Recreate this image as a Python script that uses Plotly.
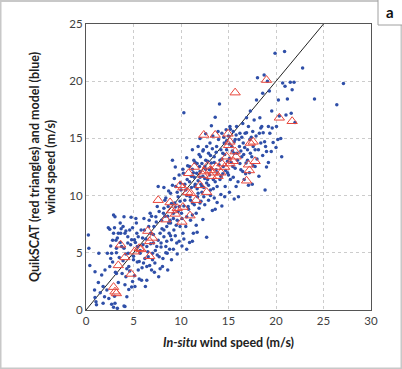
import plotly.graph_objects as go

# Red triangles: QuikSCAT vs in-situ
tri_x = [2.9, 3.05, 3.2, 3.4, 3.65, 4.1, 4.75, 5.1, 5.6, 5.8, 6.5, 6.7, 6.7, 7.0, 7.6, 8.4, 8.85, 9.0,
         9.4, 9.6, 9.9, 10.2, 10.2, 10.1, 10.7, 10.95, 10.8, 11.0, 11.4, 11.6, 12.0, 12.4, 12.3, 12.4,
         12.7, 12.8, 13.05, 13.2, 13.4, 13.6, 13.7, 13.9, 14.2, 14.3, 14.6, 14.8, 14.95, 15.15, 15.0,
         15.5, 15.7, 15.8, 15.7, 16.9, 17.1, 17.2, 17.3, 17.6, 17.8, 19.0, 20.35, 21.7, 15.15]
tri_y = [2.0, 1.6, 1.45, 3.9, 5.7, 4.6, 3.15, 5.1, 5.4, 5.3, 6.9, 6.0, 4.7, 6.3, 9.6, 7.9, 9.4, 8.7,
         8.4, 8.9, 10.9, 10.7, 9.0, 7.7, 10.3, 8.25, 11.95, 10.2, 12.5, 9.6, 10.9, 15.3, 11.8, 12.1,
         10.3, 12.6, 12.2, 11.7, 12.0, 15.3, 12.5, 11.7, 12.0, 12.8, 12.5, 13.4, 15.4, 14.7, 14.4,
         13.0, 13.85, 13.4, 19.0, 11.3, 12.7, 12.2, 14.6, 14.7, 13.0, 20.1, 16.8, 16.5, 12.8]

# Blue dots: model vs in-situ
dot_x = [0.25, 0.3, 0.4, 0.95, 0.9, 1.05, 1.1, 0.95, 1.35, 1.65, 1.8, 1.95, 2.2, 2.25, 2.35, 2.5, 2.6, 2.5,
         2.7, 2.8, 2.9, 2.9, 3.05, 3.15, 3.2, 3.2, 3.05, 2.7, 2.9, 3.3, 3.4, 3.6, 3.65, 3.75, 3.9, 4.0,
         4.1, 4.2, 4.3, 4.0, 4.1, 4.4, 4.45, 4.5, 4.6, 4.75, 4.8, 4.9, 5.0, 5.1, 5.15, 5.25, 5.35, 5.4,
         5.5, 5.6, 5.7, 5.85, 5.95, 6.05, 6.15, 6.25, 6.4, 6.4, 6.55, 6.65, 6.75, 6.8, 6.9, 7.0, 7.1,
         7.15, 7.25, 7.35, 7.45, 7.5, 7.6, 7.65, 7.7, 7.8, 7.9, 7.95, 8.05, 8.15, 8.2, 8.3, 8.4, 8.5,
         8.55, 8.65, 8.75, 8.85, 8.9, 9.0, 9.1, 9.2, 9.25, 9.35, 9.45, 9.55, 9.6, 9.7, 9.8, 9.9, 9.95,
         10.05, 10.2, 10.25, 10.3, 10.4, 10.5, 10.6, 10.65, 10.75, 10.9, 10.95, 11.0, 11.1, 11.2, 11.3,
         11.35, 11.45, 11.6, 11.65, 11.75, 11.8, 11.95, 12.0, 12.05, 12.2, 12.3, 12.35, 12.4, 12.5,
         12.6, 12.7, 12.8, 12.9, 13.0, 13.05, 13.1, 13.2, 13.35, 13.4, 13.5, 13.6, 13.7, 13.75, 13.8,
         13.95, 14.05, 14.1, 14.2, 14.3, 14.4, 14.45, 14.55, 14.65, 14.75, 14.8, 14.9, 15.0, 15.1,
         15.15, 15.2, 15.35, 15.45, 15.5, 15.6, 15.7, 15.8, 15.85, 15.95, 16.05, 16.15, 16.2, 16.3,
         16.4, 16.5, 16.55, 16.65, 16.75, 16.85, 16.9, 17.0, 17.1, 17.2, 17.25, 17.3, 17.45, 17.55,
         17.6, 17.7, 17.8, 17.9, 17.95, 18.05, 18.15, 18.25, 18.3, 18.4, 18.5, 18.6, 18.65, 18.75,
         18.85, 18.9, 19.0, 19.1, 19.2, 19.3, 19.35, 19.5, 19.55, 19.7, 19.9, 20.0, 20.05, 20.25,
         20.35, 20.5, 20.7, 20.9, 20.95, 21.05, 21.2, 21.5, 21.6, 21.7, 21.9, 22.0, 22.8, 24.05, 26.4,
         27.1,
         11.2, 11.4, 11.5, 11.7, 11.8, 11.9, 12.0, 12.1, 12.2, 12.3, 12.4, 12.5, 12.6, 12.7, 12.8, 12.9,
         13.0, 13.1, 13.2, 13.3, 13.4, 13.5, 13.6, 13.7, 13.8, 13.9, 14.0, 14.1, 14.2, 14.3, 14.4, 14.5,
         14.6, 14.7, 14.8, 14.9, 15.0, 15.1, 15.2, 15.3, 15.4, 15.5, 15.6, 15.7, 15.8, 15.9, 16.0, 16.1,
         16.2, 16.3, 16.4, 16.5, 16.6, 16.7, 16.8, 16.9, 17.0, 17.1, 17.3, 17.4, 17.6, 17.8, 18.0, 18.2,
         18.4, 18.6, 18.8, 19.2, 19.6, 20.2,
         8.2, 8.4, 8.6, 8.7, 8.9, 9.0, 9.1, 9.2, 9.3, 9.4, 9.5, 9.6, 9.7, 9.8, 9.9, 10.0, 10.1, 10.2,
         10.3, 10.4, 10.5, 10.6, 10.7, 10.8, 10.9, 11.0, 11.1, 11.2, 11.3, 11.4, 11.5, 11.6, 11.7, 11.8,
         11.9, 12.0, 12.1, 12.2, 12.3, 12.5, 12.7, 12.9, 13.1, 13.3, 13.5, 13.8, 14.2, 14.6, 15.1, 15.6,
         4.2, 4.4, 4.6, 4.7, 4.9, 5.0, 5.1, 5.2, 5.3, 5.4, 5.5, 5.6, 5.7, 5.8, 5.9, 6.0, 6.1, 6.2, 6.3,
         6.4, 6.5, 6.6, 6.7, 6.8, 6.9, 7.0, 7.1, 7.2, 7.3, 7.4, 7.5, 7.6, 7.7, 7.8, 7.9, 8.0, 8.1, 8.2,
         8.3, 8.4, 8.5, 8.6, 8.7, 8.8, 8.9, 9.0, 9.2, 9.4, 9.6, 9.8, 10.1, 10.3, 10.6, 11.2,
         2.6, 2.8, 3.0, 3.1, 3.2, 3.3, 3.4, 3.5, 3.6, 3.7, 3.8, 3.9, 4.0, 4.1, 4.2, 4.3, 4.5, 4.8, 3.0,
         2.4, 1.8, 1.3, 2.0, 1.5,
         8.2, 9.4, 11.2, 12.0, 10.6, 12.6, 13.2,
         14.3, 13.6, 11.7, 10.9, 17.5, 19.0, 20.6]
dot_y = [6.55, 5.4, 3.9, 3.35, 1.75, 0.73, 0.45, 1.1, 4.95, 3.05, 2.05, 1.15, 1.75, 4.95, 7.2, 7.05, 4.5, 3.8,
         4.95, 6.1, 6.7, 8.3, 8.15, 6.1, 5.4, 3.2, 0.6, 0.5, 0.25, 0.15, 6.7, 7.6, 6.7, 5.55, 7.3, 8.15,
         6.7, 2.9, 1.15, 0.35, 0.3, 5.85, 4.95, 3.8, 7.0, 8.1, 6.15, 2.5, 4.4, 6.15, 2.05, 8.0, 6.7, 5.55,
         3.5, 4.25, 4.95, 2.6, 6.3, 4.1, 7.0, 2.05, 3.8, 5.55, 4.65, 7.85, 8.45, 6.7, 3.5, 4.95, 5.85,
         7.3, 4.1, 8.15, 5.55, 9.05, 10.8, 2.9, 4.65, 6.7, 5.85, 7.85, 3.8, 8.45, 7.0, 9.6, 5.55, 7.3,
         4.95, 9.05, 6.7, 7.85, 10.2, 6.15, 13.1, 8.45, 7.0, 9.35, 10.8, 5.85, 7.85, 9.9, 9.05, 7.3, 11.1,
         8.45, 6.7, 11.95, 17.25, 9.6, 10.5, 8.15, 11.4, 9.05, 12.55, 9.9, 7.85, 11.7, 9.35, 6.7,
         13.1, 10.8, 8.45, 11.95, 9.9, 14.3, 12.55, 9.35, 13.4, 10.8, 11.7, 14.0, 9.9, 12.55,
         13.1, 6.35, 11.4, 13.7, 12.25, 14.6, 10.5, 12.85, 15.2, 11.4, 13.4, 16.85, 12.25, 14.3, 10.8,
         14.9, 18.0, 13.1, 11.7, 15.45, 13.7, 12.55, 14.6, 10.8, 15.75, 14.0, 12.0, 15.2, 13.25,
         16.05, 11.4, 14.3, 12.55, 15.6, 13.7, 14.9, 10.8, 16.05, 13.1, 9.9, 14.3, 15.45, 12.25,
         13.4, 16.3, 14.6, 11.4, 15.45, 12.85, 16.8, 14.0, 16.05, 12.0, 14.9, 17.4, 13.4, 15.6,
         14.3, 16.6, 12.55, 15.2, 18.35, 20.3, 14.0, 15.45, 16.8, 14.6, 16.05, 18.95, 15.5, 20.55,
         10.5, 14.3, 13.85, 20.0, 16.05, 19.15, 15.45, 13.85, 17.4, 14.65, 22.45, 14.2, 16.05, 18.35,
         16.95, 15.0, 19.85, 22.6, 19.55, 17.05, 18.45, 19.9, 17.2, 19.25, 19.9, 16.4, 21.15, 18.45, 17.95,
         19.8,
         12.3, 11.6, 12.9, 10.6, 11.3, 13.6, 12.1, 11.0, 12.8, 13.9, 10.7, 11.5, 12.3, 14.3, 13.0, 10.9,
         11.8, 13.5, 12.4, 14.1, 10.6, 12.9, 11.2, 13.8, 12.0, 15.6, 12.7, 11.4, 14.0, 13.2, 11.9, 15.1,
         13.6, 12.2, 14.8, 13.0, 11.8, 14.5, 15.8, 12.9, 13.9, 11.6, 14.7, 12.4, 15.3, 13.7, 11.2, 14.9,
         12.8, 13.9, 15.1, 12.1, 13.6, 14.2, 11.9, 15.5, 13.1, 10.9, 13.7, 15.1, 12.6, 14.0, 13.2, 11.7,
         15.9, 13.5, 14.7, 12.9, 15.9, 14.9,
         8.9, 9.8, 8.2, 10.4, 7.6, 9.3, 10.9, 8.0, 11.5, 9.0, 7.4, 10.3, 8.6, 11.8, 9.5, 10.5, 8.0, 12.3,
         9.1, 11.0, 7.3, 10.0, 12.6, 8.8, 11.2, 9.6, 10.7, 8.3, 12.0, 9.2, 11.0, 7.4, 12.8, 10.2,
         8.9, 11.6, 9.5, 10.3, 7.9, 9.2, 11.1, 9.6, 10.0, 8.7, 9.8, 9.4, 10.1, 9.9, 10.3, 9.7,
         4.9, 6.4, 3.4, 5.7, 7.2, 4.7, 3.0, 5.9, 7.6, 4.2, 6.4, 2.7, 5.2, 7.0, 3.7, 5.7, 8.0, 4.5, 6.2,
         2.6, 5.1, 7.3, 3.9, 5.8, 8.2, 4.4, 6.6, 3.3, 5.2, 7.7, 4.8, 6.1, 8.6, 3.6, 5.5, 7.1, 4.5, 6.4,
         8.2, 5.0, 6.0, 3.5, 7.6, 5.3, 6.5, 4.4, 5.3, 6.5, 4.9, 6.0, 5.6, 6.2, 5.3, 6.0,
         5.6, 4.2, 7.2, 3.3, 5.0, 6.3, 2.4, 4.6, 5.9, 7.1, 3.2, 4.3, 5.4, 2.2, 6.9, 3.6, 1.8, 2.0, 1.2,
         1.0, 0.6, 2.4, 3.5, 1.5,
         10.7, 12.5, 14.0, 15.0, 13.3, 15.4, 16.1,
         9.1, 8.8, 6.8, 5.9, 11.0, 12.5, 13.4]

# Axis ticks
x_ticks = [0, 5, 10, 15, 20, 25, 30]
y_ticks = [0, 5, 10, 15, 20, 25]
one_to_one = [0, 25]

fig = go.Figure()
fig.add_trace(go.Scatter(x=one_to_one, y=one_to_one, mode="lines",
                         line=dict(color="#222222", width=1), hoverinfo="skip"))
fig.add_trace(go.Scatter(x=dot_x, y=dot_y, mode="markers",
                         marker=dict(size=3.5, color="#2f4fa8", line=dict(width=0))))
fig.add_trace(go.Scatter(x=tri_x, y=tri_y, mode="markers",
                         marker=dict(symbol="triangle-up-open", size=9, color="#e8473c",
                                     line=dict(width=1, color="#e8473c"))))

axis_common = dict(showgrid=True, gridcolor="#cccccc", griddash="dot", gridwidth=1,
                   zeroline=False, showline=True, linecolor="#555555", linewidth=1, mirror=True,
                   ticks="", tickfont=dict(family="Lato", size=11.5, color="#404040"))

fig.update_layout(
    width=402, height=369,
    margin=dict(l=86, r=31, t=24, b=59),
    paper_bgcolor="white", plot_bgcolor="white",
    showlegend=False,
    font=dict(family="Lato", color="#222222"),
    xaxis=dict(range=[0, 30], tickvals=x_ticks, **axis_common,
               title=dict(text="<b><i>In-situ</i> wind speed (m/s)</b>",
                          font=dict(family="Lato", size=12.5, color="#222222"), standoff=12)),
    yaxis=dict(range=[0, 25], tickvals=y_ticks, **axis_common,
               title=dict(text="<b>QuikSCAT (red triangles) and model (blue)<br>wind speed (m/s)</b>",
                          font=dict(family="Lato", size=12.5, color="#222222"), standoff=10)),
    shapes=[
        dict(type="rect", xref="paper", yref="paper",
             x0=(0.5 - 86) / 285, x1=(401.5 - 86) / 285, y0=(310 - 368.5) / 286, y1=(310 - 1) / 286,
             line=dict(color="#c8c8c8", width=2), fillcolor="rgba(0,0,0,0)", layer="below"),
        dict(type="rect", xref="paper", yref="paper",
             x0=(378 - 86) / 285, x1=(403 - 86) / 285, y0=(310 - 25) / 286, y1=(310 + 2) / 286,
             line=dict(color="#a0a0a0", width=1), fillcolor="white"),
    ],
    annotations=[
        dict(text="<b>a</b>", xref="paper", yref="paper", x=(390 - 86) / 285, y=(310 - 12) / 286,
             showarrow=False, font=dict(family="Lato", size=15, color="#111111"),
             xanchor="center", yanchor="middle"),
    ],
)

fig.write_html("out.html", config={"displayModeBar": False},
               post_script="document.body.style.margin='0';document.body.style.overflow='hidden';")
